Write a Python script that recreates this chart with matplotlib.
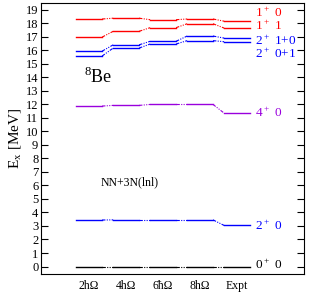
import matplotlib
matplotlib.use("Agg")
import matplotlib.pyplot as plt

plt.rcParams['font.family'] = ['Liberation Serif', 'DejaVu Serif']
plt.rcParams['mathtext.fontset'] = 'custom'
plt.rcParams['mathtext.rm'] = 'Liberation Serif'

columns = ["2h\u03a9", "4h\u03a9", "6\u0127\u03a9", "8h\u03a9", "Expt"]

# excitation energies per state, one value per column
level_00 = [0.0, 0.0, 0.0, 0.0, 0.0]
level_20 = [3.44, 3.45, 3.45, 3.45, 3.04]
level_40 = [11.87, 11.92, 11.99, 11.99, 11.35]
level_201 = [15.57, 16.16, 16.46, 16.71, 16.63]
level_210 = [15.93, 16.40, 16.66, 17.05, 16.90]
level_11 = [16.97, 17.40, 17.67, 17.96, 17.64]
level_10 = [18.31, 18.37, 18.26, 18.31, 18.15]

states = [
    (level_00, "black", r"0$^+$ 0", 0.15),
    (level_20, "blue", r"2$^+$ 0", 3.0),
    (level_40, "#9900dd", r"4$^+$ 0", 11.35),
    (level_201, "blue", r"2$^+$ 0+1", 15.72),
    (level_210, "blue", r"2$^+$ 1+0", 16.72),
    (level_11, "red", r"1$^+$ 1", 17.78),
    (level_10, "red", r"1$^+$ 0", 18.8),
]

half = 0.35
xs = range(1, len(columns) + 1)

fig, ax = plt.subplots(figsize=(3.16, 2.93), dpi=100)
fig.subplots_adjust(left=0.13, right=0.962, top=0.99, bottom=0.065)

for vals, col, lab, ylab in states:
    for x, v in zip(xs, vals):
        ax.plot([x - half, x + half], [v, v], color=col, lw=1.0)
    for i in range(len(vals) - 1):
        ax.plot([xs[i] + half, xs[i + 1] - half], [vals[i], vals[i + 1]],
                color=col, lw=0.8, ls=(0, (3, 1.2, 1, 1.2, 1, 1.2)))
    ax.text(5.48, ylab, lab, color=col, fontsize=9.5, va="center", ha="left")

ax.text(0.85, 14.0, r"$^8$Be", fontsize=13, va="center", ha="left")
ax.text(1.3, 6.2, "NN+3N(lnl)", fontsize=8.5, va="center", ha="left")

ax.set_xlim(-0.3, 6.81)
ax.set_ylim(-0.55, 19.5)
ax.set_yticks(range(0, 20))
ax.set_xticks(list(xs))
ax.set_xticklabels(columns)
ax.tick_params(axis="y", direction="in", right=True, labelsize=9, length=5, width=0.8, pad=2)
ax.tick_params(axis="x", length=0, labelsize=8.5, pad=4)
ax.set_ylabel(r"E$_\mathrm{x}$ [MeV]", fontsize=11, labelpad=1)
for s in ax.spines.values():
    s.set_linewidth(0.8)

fig.savefig("out.png", dpi=100)
